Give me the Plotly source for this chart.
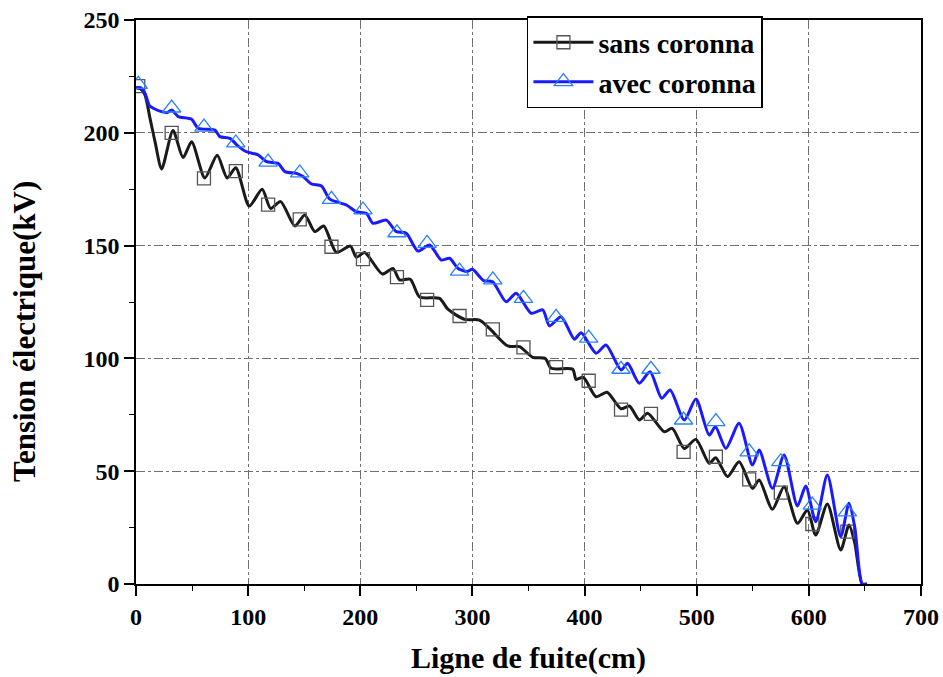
import plotly.graph_objects as go

# ---- data ----
sans_x = [0, 4, 8, 12.5, 17, 22.9, 33, 42, 49.6, 61.4, 72.4, 81.3, 89, 101, 112.5, 120, 129,
          141.6, 150.5, 159.4, 167.4, 178.7, 191.2, 196.5, 203.9, 219.7, 229.1, 235.1, 244.6,
          252.9, 270.7, 278.1, 293, 306.3, 315.2, 331.5, 342, 353.8, 365, 370.2, 389.4, 392.4,
          398.9, 410.2, 420, 432.5, 440, 448.8, 456.2, 471.1, 478.2, 488.9, 499.3, 511.1, 517,
          527.4, 537.8, 549.7, 555.7, 567.5, 577.9, 589.8, 598.7, 606.1, 616.5, 628.4, 635.8,
          641, 647.6, 652]
sans_y = [220, 219.5, 216.8, 206.4, 196, 184, 201, 189, 196, 180, 190, 180, 184.5, 167.5, 175,
          166.5, 169.5, 158.7, 163.6, 156.2, 158.7, 147, 149.8, 144.8, 146.9, 137.4, 139.9, 134.8,
          135.1, 127.2, 126.6, 121.8, 117.3, 117, 113.3, 105.5, 105.2, 100.5, 100, 95.6, 95.2,
          90.7, 91.6, 83, 85, 77.7, 78.9, 72.7, 75.7, 67.5, 69, 60.1, 64.1, 53.5, 56, 47.6, 54.2,
          42.4, 46.1, 33.1, 43.1, 26.9, 32.8, 21.7, 35.5, 15.1, 26.2, 18, 0, 0]

avec_x = [0, 4, 8, 12, 15.4, 22.9, 28, 31.8, 37.7, 49.6, 55.5, 70.3, 74.8, 83.7, 91.1, 98.6,
          108.9, 116.4, 126.7, 132.7, 143.1, 149, 156.5, 165.4, 172.8, 187.6, 196.5, 205.4,
          211.3, 223.2, 232.1, 241, 251.4, 261.8, 272.2, 279.6, 287, 295, 300, 310, 318, 330.1,
          339, 352.4, 362.7, 368.7, 379.1, 390.9, 396.9, 410.3, 419.1, 432.5, 438.4, 448.8,
          458.4, 468.8, 476.3, 488.9, 499.3, 511.1, 516.7, 526, 537.8, 549.7, 555.7, 567.5,
          577.9, 589.8, 597.2, 606.1, 616.5, 628.4, 635.8, 641, 647.6, 652]
avec_y = [220, 220, 217.5, 212, 210.9, 209.4, 209, 210.1, 207.2, 206, 202, 201.2, 198.3, 197.5,
          194.1, 191.6, 190.2, 187.2, 186.5, 182.8, 182, 180.6, 177.3, 176.4, 170.6, 168, 165,
          164.3, 159.9, 161.3, 156.2, 155.5, 147.6, 150.3, 143.6, 144.4, 140, 138.5, 139.5,
          134.5, 134, 125.1, 128.9, 120, 121.5, 114.4, 118.5, 108.5, 111.4, 102.3, 105.9, 94.9,
          97.8, 89, 94.1, 82.3, 86, 72.7, 82, 66, 69.7, 60.1, 71.2, 52.7, 59.4, 42.4, 57.2,
          34.6, 43.4, 27.6, 48.3, 21, 35.8, 25, 0, 0]

mark_x = [2, 31.8, 60.6, 89, 117.8, 146, 174.3, 202.4, 232.7, 259.6, 288.5, 318.2, 345.5,
          374.6, 403.7, 432.5, 459.2, 488.3, 517.1, 546.8, 575, 603.1, 634.3]
sans_mark_y = [220.7, 200, 179.8, 183, 168.2, 161.6, 149.5, 144, 136, 125.9, 118.8, 112.9,
               104.9, 96.1, 90.1, 77.3, 75.4, 58.6, 56.4, 46.4, 40.5, 26.6, 23.2]
avec_mark_y = [221.5, 211, 202.5, 195.5, 187, 182.2, 170.5, 165.8, 155.7, 151, 138.7, 134.8,
               126.6, 118.2, 109, 95.2, 95.2, 72.7, 72, 58.6, 54.2, 35, 32]

names = ["sans coronna", "avec coronna"]
x_ticks = [0, 100, 200, 300, 400, 500, 600, 700]
y_ticks = [0, 50, 100, 150, 200, 250]
x_title = "Ligne de fuite(cm)"
y_title = "Tension électrique(kV)"

FONT = "Liberation Serif"
BLACK = "#1a1a1a"
BLUE = "#1a1aff"
SQ = "#555555"
TRI = "#2a7fff"

LINE_SHAPE = dict(shape="spline", smoothing=0.7)

fig = go.Figure()
fig.add_trace(go.Scatter(x=sans_x, y=sans_y, mode="lines",
                         line=dict(color=BLACK, width=3, **LINE_SHAPE), showlegend=False))
fig.add_trace(go.Scatter(x=mark_x, y=sans_mark_y, mode="markers",
                         marker=dict(symbol="square-open", size=13, color=SQ,
                                     line=dict(width=1.3, color=SQ)), showlegend=False))
fig.add_trace(go.Scatter(x=avec_x, y=avec_y, mode="lines",
                         line=dict(color=BLUE, width=3, **LINE_SHAPE), showlegend=False))
fig.add_trace(go.Scatter(x=mark_x, y=avec_mark_y, mode="markers",
                         marker=dict(symbol="triangle-up-open", size=16, color=TRI,
                                     line=dict(width=1.3, color=TRI)), showlegend=False))
# legend entries
fig.add_trace(go.Scatter(x=[None], y=[None], mode="lines+markers", name="<b>" + names[0] + "</b>",
                         line=dict(color=BLACK, width=3),
                         marker=dict(symbol="square-open", size=13, color=SQ,
                                     line=dict(width=1.3, color=SQ))))
fig.add_trace(go.Scatter(x=[None], y=[None], mode="lines+markers", name="<b>" + names[1] + "</b>",
                         line=dict(color=BLUE, width=3),
                         marker=dict(symbol="triangle-up-open", size=16, color=TRI,
                                     line=dict(width=1.3, color=TRI))))

axis_common = dict(showline=True, mirror=True, linecolor="black", linewidth=1.5,
                   ticks="outside", ticklen=10, tickwidth=1.5, tickcolor="black",
                   showgrid=True, gridcolor="#707070", gridwidth=1, griddash="dashdot",
                   zeroline=False, automargin=False,
                   tickfont=dict(family=FONT, size=24, color="black"))

fig.update_xaxes(range=[0, 700], tickvals=x_ticks, ticktext=["<b>%d</b>" % v for v in x_ticks],
                 minor=dict(ticks="outside", ticklen=5, tickwidth=1, tickcolor="black",
                            dtick=50, showgrid=False),
                 title=dict(text="<b>" + x_title + "</b>", standoff=18,
                            font=dict(family=FONT, size=30, color="black")),
                 **axis_common)
fig.update_yaxes(range=[0, 250], tickvals=y_ticks, ticktext=["<b>%d</b>" % v for v in y_ticks],
                 minor=dict(ticks="outside", ticklen=5, tickwidth=1, tickcolor="black",
                            dtick=25, showgrid=False),
                 **axis_common)

fig.add_annotation(text="<b>" + y_title + "</b>", textangle=-90,
                   xref="paper", yref="paper", x=-0.1414, y=0.447,
                   xanchor="center", yanchor="middle", showarrow=False,
                   font=dict(family=FONT, size=31, color="black"))

fig.update_layout(
    width=943, height=677,
    margin=dict(l=136, r=22, t=20, b=93),
    plot_bgcolor="white", paper_bgcolor="white",
    font=dict(family=FONT, color="black"),
    legend=dict(x=0.498, y=1.007, xanchor="left", yanchor="top",
                bgcolor="white", bordercolor="black", borderwidth=1.5,
                font=dict(family=FONT, size=28, color="black"),
                itemwidth=60, tracegroupgap=0),
)

fig.write_html("out.html")
